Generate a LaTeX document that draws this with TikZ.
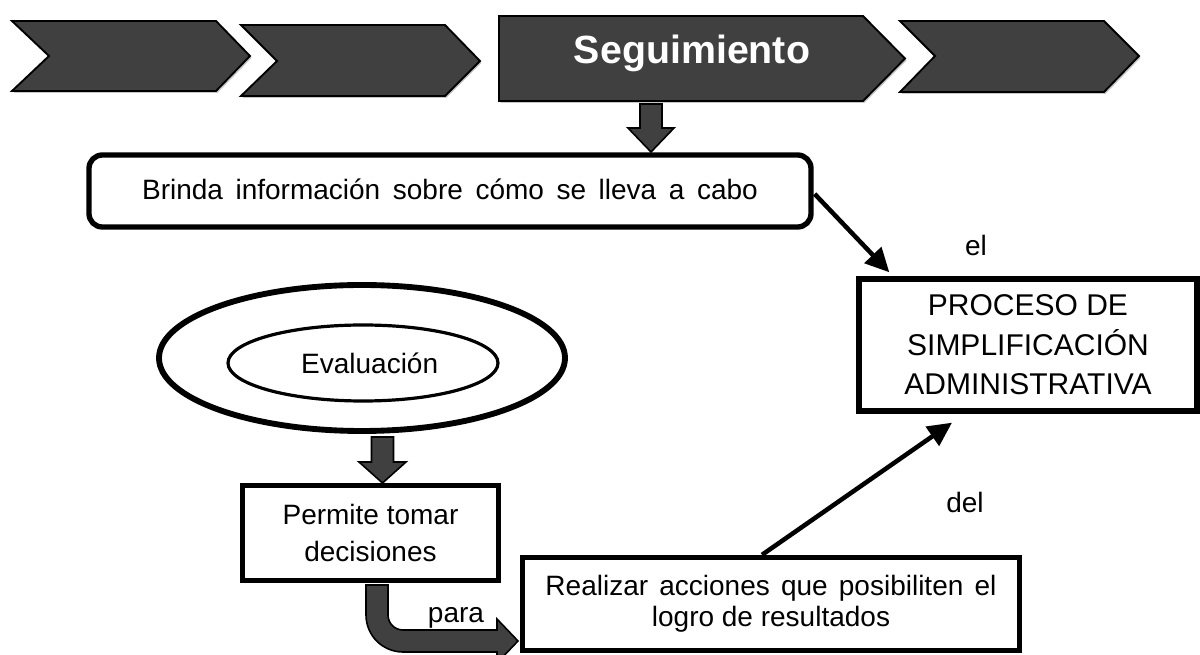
\documentclass[tikz,border=0pt]{standalone}
\usepackage{fontspec}
\setmainfont{Liberation Sans}
\usetikzlibrary{arrows.meta,calc,shapes.geometric}
\definecolor{dk}{HTML}{404040}
\begin{document}
\begin{tikzpicture}[x=0.75pt,y=-0.75pt,
  chev/.style={fill=dk,draw=black,line width=1.4pt,line join=miter},
  shad/.style={fill=black!22,draw=none},
  blockarrow/.style={fill=dk,draw=black,line width=1.2pt,line join=miter},
  txt/.style={font=\fontsize{21}{29}\selectfont,align=center,inner sep=0pt},
  box/.style={draw=black,line width=4pt,fill=white,inner sep=0pt,align=center,font=\fontsize{21}{29}\selectfont},
  conn/.style={line width=3.4pt,-{Triangle[length=18pt,width=17pt]}},
]
\useasboundingbox (0,0) rectangle (1200,655);

% chevrons (shadows then shapes)
\foreach \dx/\dy in {1.5/2}{
  \fill[shad,shift={(\dx,\dy)}] (12,21) -- (216,21) -- (250,56) -- (216,91) -- (12,91) -- (49,56) -- cycle;
  \fill[shad,shift={(\dx,\dy)}] (241,25) -- (445,25) -- (480,61) -- (445,96) -- (241,96) -- (277,61) -- cycle;
  \fill[shad,shift={(\dx,\dy)}] (499,16) -- (863,16) -- (905,58.5) -- (863,101) -- (499,101) -- cycle;
  \fill[shad,shift={(\dx,\dy)}] (900,21) -- (1104,21) -- (1139,56) -- (1104,92) -- (900,92) -- (935,56) -- cycle;
}
\draw[chev] (12,21) -- (216,21) -- (250,56) -- (216,91) -- (12,91) -- (49,56) -- cycle;
\draw[chev] (241,25) -- (445,25) -- (480,61) -- (445,96) -- (241,96) -- (277,61) -- cycle;
\draw[chev] (499,16) -- (863,16) -- (905,58.5) -- (863,101) -- (499,101) -- cycle;
\draw[chev] (900,21) -- (1104,21) -- (1139,56) -- (1104,92) -- (900,92) -- (935,56) -- cycle;
\node[anchor=base,text=white,font=\fontsize{29.5}{34}\selectfont\bfseries,inner sep=0pt] (seg) at (692,64) {Seguimiento};

% boxes
\node[box,rounded corners=10pt,minimum width=541.5pt,minimum height=54pt] (brinda) at (450,191)
  {\spaceskip=0.45em plus 0.1em \raisebox{2pt}{Brinda información sobre cómo se lleva a cabo}};
\node[box,minimum width=253.5pt,minimum height=99pt,font=\fontsize{22.5}{29.5}\selectfont] (proceso) at (1028,345)
  {PROCESO DE\\SIMPLIFICACIÓN\\ADMINISTRATIVA};
\node[draw=black,line width=4.4pt,ellipse,minimum width=304.5pt,minimum height=109.5pt,inner sep=0pt] (outer) at (362,358) {};
\node[draw=black,line width=2.4pt,ellipse,minimum width=202.5pt,minimum height=57pt,inner sep=0pt,font=\fontsize{21}{24}\selectfont] (eval) at (363,363) {\hspace*{10pt}Evaluación};
\node[box,minimum width=192pt,minimum height=71.25pt,font=\fontsize{21}{28}\selectfont] (permite) at (370.5,533)
  {Permite tomar\\decisiones};
\node[box,minimum width=372.75pt,minimum height=69.75pt,font=\fontsize{21}{23}\selectfont] (realizar) at (771,604)
  {\spaceskip=0.4em plus 0.1em Realizar acciones que posibiliten el\\logro de resultados};

% labels
\node[txt,anchor=base] (lel) at (976,256) {el};
\node[txt,anchor=base] (ldel) at (965,513) {del};
\node[txt,anchor=base] (lpara) at (456,623) {para};

% connectors
\coordinate (pin1) at ($(proceso.north west)+(33,-4)$);
\coordinate (pin2) at ($(proceso.south)+(-76,9)$);
\draw[conn] ($(brinda.east)+(1,3)$) -- (pin1);
\draw[conn] ($(realizar.north)+(-9,0)$) -- (pin2);

% block arrows
\draw[blockarrow] (640,104) -- (662,104) -- (662,128) -- (674,128) -- (651,152) -- (628,128) -- (640,128) -- cycle;
\draw[blockarrow] (371.5,437) -- (393.5,437) -- (393.5,462) -- (406,462) -- (382.5,483) -- (359,462) -- (371.5,462) -- cycle;
\draw[blockarrow] (366,585) -- (388,585) -- (388,615) arc[start angle=180,end angle=90,radius=15]
  -- (497,630) -- (497,619) -- (518,641) -- (497,663) -- (497,652) -- (403,652)
  arc[start angle=90,end angle=180,radius=37] -- cycle;
\end{tikzpicture}
\end{document}
